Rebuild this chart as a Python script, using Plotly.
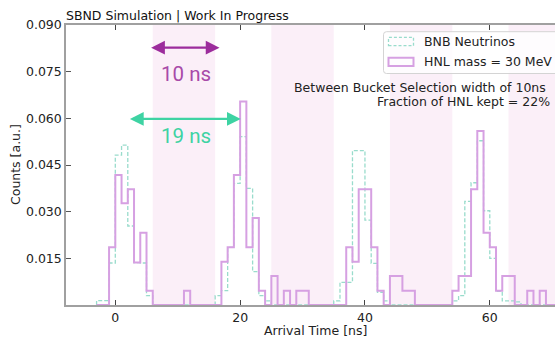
import plotly.graph_objects as go

# ---------------- data ----------------
# 1 ns bins, left edges -3 ... 72 (last edge 73)
bin_edges = list(range(-3, 74))

# BNB neutrinos (normalised), one value per bin
bnb_counts = [
    0.0014, 0.0014, 0.0135, 0.0482, 0.0514, 0.0254, 0.0136, 0.0135, 0.0030,          # -3 .. 5
    0, 0, 0, 0, 0, 0, 0, 0, 0, 0,                                                    # 6 .. 15
    0.0030, 0.0046, 0.0185, 0.0391, 0.0541, 0.0375, 0.0107, 0.0030, 0.0013,          # 16 .. 24
    0, 0, 0, 0, 0, 0, 0, 0, 0, 0,                                                    # 25 .. 34
    0.0013, 0.0073, 0.0073, 0.0496, 0.0496, 0.0273, 0.0134, 0.0041, 0.0013,          # 35 .. 43
    0, 0, 0, 0, 0, 0, 0, 0, 0, 0,                                                    # 44 .. 53
    0.0013, 0.0030, 0.0333, 0.0393, 0.0528, 0.0303, 0.0150, 0.0044, 0.0013, 0.0013, 0.0010,  # 54 .. 64
    0, 0, 0, 0, 0, 0, 0, 0,                                                          # 65 .. 72
]

# HNL mass = 30 MeV (normalised), one value per bin
hnl_counts = [
    0, 0, 0.0186, 0.0418, 0.0327, 0.0372, 0.0137, 0.0232, 0.0046,                    # -3 .. 5
    0, 0, 0, 0, 0, 0.0046, 0, 0, 0, 0,                                               # 6 .. 15
    0, 0.0139, 0.0186, 0.0418, 0.0654, 0.0186, 0.0280, 0.0046, 0,                    # 16 .. 24
    0.0093, 0, 0.0046, 0, 0.0046, 0.0046, 0, 0, 0, 0,                                # 25 .. 34
    0, 0, 0.0186, 0.0139, 0.0372, 0.0372, 0.0186, 0.0046, 0,                         # 35 .. 43
    0.0093, 0.0093, 0.0046, 0.0046, 0, 0, 0, 0, 0, 0,                                # 44 .. 53
    0.0046, 0.0093, 0.0093, 0.0372, 0.0559, 0.0232, 0.0186, 0.0046, 0.0093, 0.0093, 0,  # 54 .. 64
    0, 0.0046, 0, 0.0046, 0, 0, 0, 0,                                                # 65 .. 72
]

# between-bucket selection windows [ns]
window_starts = [6, 25, 44, 63]
window_ends = [16, 35, 54, 73]

x_ticks = [0, 20, 40, 60]
y_ticks = [0.015, 0.030, 0.045, 0.060, 0.075, 0.090]
y_tick_labels = ["0.015", "0.030", "0.045", "0.060", "0.075", "0.090"]

# annotation arrows: (x_start, x_end, y)
arrow_10ns = (5.5, 16.7, 0.0827)
arrow_19ns = (2.1, 20.1, 0.0598)

full_x_range = [-8, 72]

# ---------------- style / geometry ----------------
L, T, W, H = 66, 25, 489, 280
FIG_W, FIG_H = 555, 337
FONT = "DejaVu Sans"
FS = 12.5
TEAL = "#99dccc"
PURPLE = "#d6a0e2"
ARROW_PURPLE = "#9c2c9c"
TEXT_PURPLE = "#a84aa8"
ARROW_GREEN = "#3ed3a3"
SHADE = "#fbeff8"


def px(xp):
    return (xp - L) / W


def py(yp):
    return (T + H - yp) / H


def step_xy(edges, counts):
    xs = [edges[0]] + list(edges)
    ys = [0] + list(counts) + [0]
    return xs, ys


fig = go.Figure()

bx, by = step_xy(bin_edges, bnb_counts)
fig.add_trace(go.Scatter(x=bx, y=by, mode="lines", line_shape="hv",
                         line=dict(color=TEAL, width=1.3, dash="4px,2px"),
                         name="BNB Neutrinos", showlegend=False, hoverinfo="skip"))
hx, hy = step_xy(bin_edges, hnl_counts)
fig.add_trace(go.Scatter(x=hx, y=hy, mode="lines", line_shape="hv",
                         line=dict(color=PURPLE, width=2),
                         name="HNL mass = 30 MeV", showlegend=False, hoverinfo="skip"))

shapes = []
for s, e in zip(window_starts, window_ends):
    shapes.append(dict(type="rect", xref="x", yref="paper", x0=s, x1=e, y0=0, y1=1,
                       fillcolor=SHADE, line=dict(width=0), layer="below"))

# manual legend
lx0, lx1, ly0, ly1, r = 383.5, 570, 31.7, 73.5, 3
path = (f"M {px(lx0 + r)},{py(ly0)} L {px(lx1)},{py(ly0)} L {px(lx1)},{py(ly1)} "
        f"L {px(lx0 + r)},{py(ly1)} Q {px(lx0)},{py(ly1)} {px(lx0)},{py(ly1 - r)} "
        f"L {px(lx0)},{py(ly0 + r)} Q {px(lx0)},{py(ly0)} {px(lx0 + r)},{py(ly0)} Z")
shapes.append(dict(type="path", xref="paper", yref="paper", path=path,
                   fillcolor="rgba(255,255,255,0.8)", line=dict(color="#d4d4d4", width=1),
                   layer="above"))
shapes.append(dict(type="rect", xref="paper", yref="paper",
                   x0=px(388.5), x1=px(413.5), y0=py(45.7), y1=py(37.3),
                   fillcolor="rgba(0,0,0,0)", line=dict(color=TEAL, width=1.3, dash="3px,2px"),
                   layer="above"))
shapes.append(dict(type="rect", xref="paper", yref="paper",
                   x0=px(388.5), x1=px(413.5), y0=py(66), y1=py(57.7),
                   fillcolor="rgba(0,0,0,0)", line=dict(color=PURPLE, width=2),
                   layer="above"))

annotations = [
    dict(text="BNB Neutrinos", xref="paper", yref="paper", x=px(423), y=py(41.7),
         xanchor="left", yanchor="middle", showarrow=False, borderpad=0,
         font=dict(family=FONT, size=FS, color="#222")),
    dict(text="HNL mass = 30 MeV", xref="paper", yref="paper", x=px(423), y=py(61.7),
         xanchor="left", yanchor="middle", showarrow=False, borderpad=0,
         font=dict(family=FONT, size=FS, color="#222")),
    dict(text="Between Bucket Selection width of 10ns", xref="paper", yref="paper",
         x=px(547), y=py(87.5), xanchor="right", yanchor="middle", showarrow=False,
         borderpad=0, font=dict(family=FONT, size=FS, color="#222")),
    dict(text="Fraction of HNL kept = 22%", xref="paper", yref="paper",
         x=px(551), y=py(101), xanchor="right", yanchor="middle", showarrow=False,
         borderpad=0, font=dict(family=FONT, size=FS, color="#222")),
    dict(text="SBND Simulation | Work In Progress", xref="paper", yref="paper",
         x=px(65), y=py(16), xanchor="left", yanchor="middle", showarrow=False,
         borderpad=0, font=dict(family=FONT, size=FS, color="#111")),
    dict(text="Counts [a.u.]", xref="paper", yref="paper", x=px(15), y=0.5,
         xanchor="center", yanchor="middle", textangle=-90, showarrow=False,
         font=dict(family=FONT, size=FS, color="#222")),
    dict(text="Arrival Time [ns]", xref="x", yref="paper",
         x=sum(full_x_range) / 2, y=py(330.5), xanchor="center", yanchor="middle",
         showarrow=False, borderpad=0, font=dict(family=FONT, size=FS, color="#222")),
    # arrows
    dict(x=arrow_10ns[1], y=arrow_10ns[2], ax=arrow_10ns[0], ay=arrow_10ns[2],
         xref="x", yref="y", axref="x", ayref="y", text="", showarrow=True,
         arrowside="end+start", arrowhead=2, startarrowhead=2, arrowsize=1.25,
         startarrowsize=1.25, arrowwidth=2.2, arrowcolor=ARROW_PURPLE),
    dict(x=arrow_19ns[1], y=arrow_19ns[2], ax=arrow_19ns[0], ay=arrow_19ns[2],
         xref="x", yref="y", axref="x", ayref="y", text="", showarrow=True,
         arrowside="end+start", arrowhead=2, startarrowhead=2, arrowsize=1.25,
         startarrowsize=1.25, arrowwidth=2.2, arrowcolor=ARROW_GREEN),
    dict(text="10 ns", x=11.4, y=0.0742, xref="x", yref="y", showarrow=False,
         xanchor="center", yanchor="middle",
         font=dict(family="Roboto", size=20.5, color=TEXT_PURPLE)),
    dict(text="19 ns", x=11.4, y=0.0542, xref="x", yref="y", showarrow=False,
         xanchor="center", yanchor="middle",
         font=dict(family="Roboto", size=20.5, color=ARROW_GREEN)),
]

fig.update_layout(
    width=FIG_W, height=FIG_H, autosize=False,
    margin=dict(l=L, r=FIG_W - L - W, t=T, b=FIG_H - T - H, pad=0),
    paper_bgcolor="white", plot_bgcolor="white",
    font=dict(family=FONT, size=FS, color="#222"),
    shapes=shapes, annotations=annotations, showlegend=False,
)
fig.update_xaxes(range=[-7.9, 70.45], showgrid=False, zeroline=False,
                 showline=True, linecolor="#a0a0a0", linewidth=1.5, mirror="ticks",
                 ticks="inside", ticklen=5, tickwidth=1, tickcolor="#444",
                 tickvals=x_ticks, tickfont=dict(family=FONT, size=FS, color="#222"))
fig.update_yaxes(range=[0, 0.09], showgrid=False, zeroline=False,
                 showline=True, linecolor="#a0a0a0", linewidth=1.5,
                 ticks="inside", ticklen=5, tickwidth=1, tickcolor="#555",
                 tickvals=y_ticks, ticktext=y_tick_labels,
                 tickfont=dict(family=FONT, size=FS, color="#222"))

fig.write_html("out.html")
